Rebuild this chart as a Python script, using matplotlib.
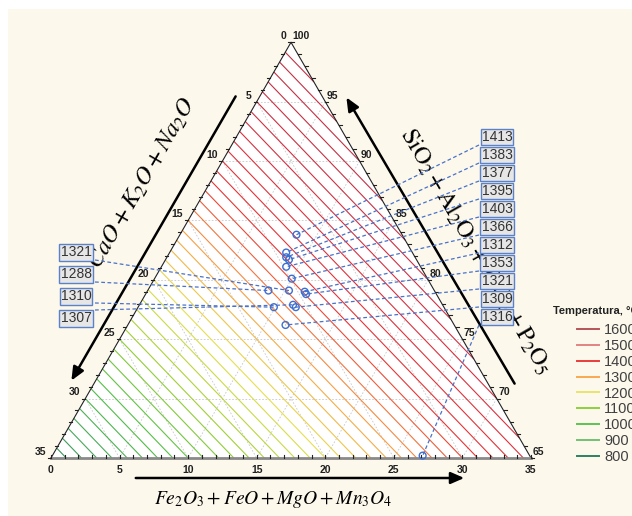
import numpy as np
import matplotlib.pyplot as plt
import matplotlib.tri as mtri
from matplotlib.colors import LinearSegmentedColormap, Normalize
from matplotlib.lines import Line2D
from matplotlib.patches import Rectangle

plt.rcParams['font.family'] = ['Liberation Sans', 'DejaVu Sans']
plt.rcParams['mathtext.fontset'] = 'stix'

# sample compositions, %: a = Fe2O3+FeO+MgO+Mn3O4, c = CaO+K2O+Na2O (rest is SiO2+...)
a_pts = [8.5, 8.5, 8.7, 9.0, 9.1, 10.0, 8.8, 10.3, 11.5, 11.7, 9.9, 11.2, 11.5, 11.5, 27.0]
c_pts = [7.7, 9.2, 9.4, 9.3, 9.8, 9.9, 12.1, 10.6, 9.5, 9.5, 12.4, 10.9, 10.8, 12.3, 7.8]
t_pts = [1413, 1383, 1377, 1395, 1403, 1366, 1288, 1321, 1312, 1353, 1310, 1307, 1321, 1309, 1316]

# label boxes (pixel centre) and start of the leader line
lab_xy = [(497, 137), (497, 155), (497, 173), (497, 191), (497, 209), (497, 227),
          (76, 274.5), (76, 252.5), (497, 245), (497, 263), (76, 296.5), (76, 318.5),
          (497, 281), (497, 299), (497, 317)]
lead_xy = [(479, 145), (479, 163), (479, 181), (479, 199), (479, 217), (479, 235),
           (95, 282), (95, 260), (479, 253), (479, 271), (95, 303), (95, 310),
           (479, 289), (479, 307), (479, 325)]

# fitted liquidus surface T = t0 + ta*a + tc*c
t0, ta, tc = 1680.0, -6.0, -24.0

leg_levels = [1600, 1500, 1400, 1300, 1200, 1100, 1000, 900, 800]
leg_colors = ['#b85458', '#e08484', '#e83c3c', '#f8a850', '#e8e46c',
              '#8cd03c', '#5cc450', '#74c074', '#2e8062']
line_colors = ['#c43044', '#d83040', '#e83434', '#f8a044', '#e6e050',
               '#a0d034', '#54c044', '#46a85c', '#24785a']

K = 480 / 35.0
X0, Y0 = 51, 458   # pixel of the bottom-left corner


def px(x, y):
    return (x - X0) / K, (Y0 - y) / K


def tern(a, c):
    a = np.asarray(a, float)
    c = np.asarray(c, float)
    return 17.5 + (a - c) / 2.0, (35.0 - a - c) * np.sqrt(3) / 2.0


fig = plt.figure(figsize=(6.32, 5.16), dpi=100, facecolor='white')
fig.patches.append(Rectangle((8 / 632, 0), 1, 507 / 516, transform=fig.transFigure,
                             fc='#fcf8ec', ec='none', zorder=-10))
ax = fig.add_axes([0, 0, 1, 1])
ax.set_xlim(-X0 / K, (632 - X0) / K)
ax.set_ylim(-(516 - Y0) / K, Y0 / K)
ax.axis('off')

cx, cy = tern([0, 35, 0], [35, 0, 0])
ax.fill(cx, cy, color='white', zorder=0)

# grid
for v in range(5, 35, 5):
    for aa, cc in [([0, v], [v, 0]), ([v, v], [0, 35 - v]), ([0, 35 - v], [v, v])]:
        gx, gy = tern(aa, cc)
        ax.plot(gx, gy, color='#c8c8c8', lw=0.6, ls=(0, (2, 2)), zorder=1)

# contours
n = 140
ii, jj = np.meshgrid(np.arange(n + 1), np.arange(n + 1))
m = ii + jj <= n
ga = 35.0 * ii[m] / n
gc = 35.0 * jj[m] / n
gx, gy = tern(ga, gc)
gt = t0 + ta * ga + tc * gc
cmap = LinearSegmentedColormap.from_list(
    'temp', [((l - 800) / 800, c) for l, c in zip(leg_levels[::-1], line_colors[::-1])])
norm = Normalize(800, 1600)
ax.tricontour(mtri.Triangulation(gx, gy), gt, levels=np.arange(700, 1800, 20),
              cmap=cmap, norm=norm, linewidths=0.8, zorder=2)

# triangle edges
ax.plot(cx[[0, 2, 1]], cy[[0, 2, 1]], color='#222222', lw=0.8, zorder=3)
ax.plot(cx[:2], cy[:2], color='#8a8a8a', lw=2, zorder=3)

# ticks and tick labels
tl = 0.22
for k in range(36):
    bx, by = tern(k, 35 - k)
    ax.plot([bx, bx], [by, by + tl], color='#222222', lw=0.8, zorder=3)
    lx, ly = tern(0, k)
    ax.plot([lx - tl, lx], [ly, ly], color='#222222', lw=0.8, zorder=3)
    rx, ry = tern(k, 0)
    ax.plot([rx, rx + tl], [ry, ry], color='#222222', lw=0.8, zorder=3)
tick_font = dict(fontsize=7.5, fontweight='bold', color='#202020')
for k in range(0, 36, 5):
    bx, by = tern(k, 35 - k)
    ax.text(bx, by - 0.9, str(k), ha='center', va='center', **tick_font)
    lx, ly = tern(0, k)
    ax.text(lx - 0.35, ly + 0.45, str(k), ha='right', va='center', **tick_font)
    rx, ry = tern(k, 0)
    ax.text(rx + 0.1, ry + 0.45, str(100 - k), ha='left', va='center', **tick_font)

# samples
sx, sy = tern(a_pts, c_pts)
for i in range(len(t_pts)):
    lx, ly = px(*lead_xy[i])
    ax.plot([lx, sx[i]], [ly, sy[i]], color='#4a72c8', lw=0.9, ls=(0, (3, 2)), zorder=4)
    bx, by = px(*lab_xy[i])
    ax.text(bx, by, str(t_pts[i]), ha='center', va='center', fontsize=10, color='#333333',
            bbox=dict(boxstyle='square,pad=0.08', fc='#e6e6e6', ec='#5b82c8', lw=1), zorder=6)
ax.scatter(sx, sy, s=24, facecolors='none', edgecolors='#3d6fd1', linewidths=1, zorder=5)

# axis titles and arrows
arr = dict(arrowstyle='-|>,head_length=0.8,head_width=0.35', color='black', lw=1.8)
ax.annotate('', xy=px(70, 383), xytext=px(237, 94), arrowprops=arr)
ax.annotate('', xy=px(345, 95), xytext=px(516, 386), arrowprops=arr)
ax.annotate('', xy=px(467, 478), xytext=px(133, 478), arrowprops=arr)
ax.text(*px(142, 184), r'$CaO+K_2O+Na_2O$', rotation=60, fontsize=17.5,
        ha='center', va='center', rotation_mode='anchor')
ax.text(*px(476, 251), r'$\mathrm{SiO_2+Al_2O_3+TiO_2+P_2O_5}$', rotation=-60, fontsize=17.5,
        ha='center', va='center', rotation_mode='anchor')
ax.text(*px(273, 499), r'$Fe_2O_3+FeO+MgO+Mn_3O_4$', fontsize=14, ha='center', va='center')

# legend (cut by the right edge, as in the original figure)
fig.text(553 / 632, 1 - 311 / 516, 'Temperatura, °C', fontsize=8, fontweight='bold',
         color='#222222', va='center')
handles = [Line2D([], [], color=c, lw=1.4) for c in leg_colors]
fig.legend(handles, [str(l) for l in leg_levels], loc='upper left',
           bbox_to_anchor=(577 / 632, 1 - 323 / 516), frameon=False, fontsize=10.5,
           labelcolor='#404040', handlelength=1.5, handletextpad=0.35, labelspacing=0.13,
           borderpad=0, borderaxespad=0)

fig.savefig('out.png', dpi=100, facecolor=fig.get_facecolor())
